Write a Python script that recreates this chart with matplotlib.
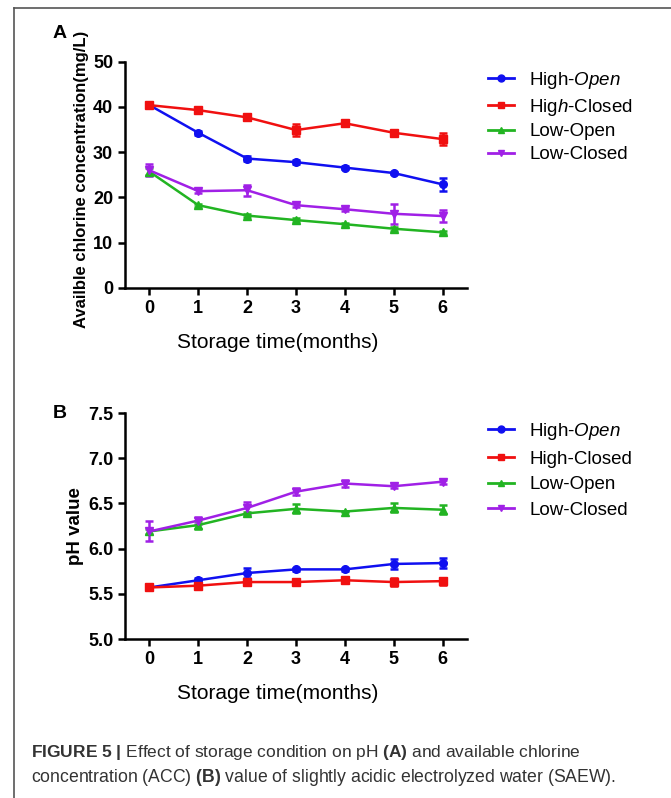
import matplotlib
matplotlib.use('Agg')
import matplotlib.pyplot as plt
from matplotlib.lines import Line2D

plt.rcParams['font.family'] = ['Liberation Sans', 'DejaVu Sans']
plt.rcParams['mathtext.fontset'] = 'custom'
plt.rcParams['mathtext.rm'] = 'Liberation Sans'
plt.rcParams['mathtext.it'] = 'Liberation Sans:italic'
plt.rcParams['mathtext.bf'] = 'Liberation Sans:bold'

# months
months = [0, 1, 2, 3, 4, 5, 6]

# panel A - available chlorine concentration (mg/L)
acc_high_open = [40.4, 34.3, 28.6, 27.8, 26.6, 25.4, 22.9]
acc_high_open_err = [0.4, 0.4, 0.5, 0.4, 0.3, 0.3, 1.4]
acc_high_closed = [40.4, 39.3, 37.7, 34.9, 36.4, 34.3, 32.9]
acc_high_closed_err = [0.4, 0.4, 0.5, 1.4, 0.4, 0.3, 1.3]
acc_low_open = [25.7, 18.3, 16.0, 15.0, 14.1, 13.1, 12.3]
acc_low_open_err = [0.8, 0.3, 0.3, 0.4, 0.3, 0.4, 0.3]
acc_low_closed = [26.0, 21.4, 21.6, 18.3, 17.4, 16.4, 15.9]
acc_low_closed_err = [1.3, 0.4, 1.2, 0.4, 0.4, 2.2, 1.4]

# panel B - pH
ph_high_open = [5.57, 5.65, 5.73, 5.77, 5.77, 5.83, 5.84]
ph_high_open_err = [0.02, 0.02, 0.05, 0.02, 0.02, 0.06, 0.06]
ph_high_closed = [5.57, 5.59, 5.63, 5.63, 5.65, 5.63, 5.64]
ph_high_closed_err = [0.02, 0.02, 0.02, 0.02, 0.02, 0.04, 0.04]
ph_low_open = [6.19, 6.26, 6.39, 6.44, 6.41, 6.45, 6.43]
ph_low_open_err = [0.03, 0.04, 0.02, 0.05, 0.01, 0.05, 0.05]
ph_low_closed = [6.19, 6.31, 6.45, 6.63, 6.72, 6.69, 6.74]
ph_low_closed_err = [0.11, 0.04, 0.07, 0.04, 0.04, 0.02, 0.02]

labels_a = ['High-$\\mathit{Open}$', 'Hig$\\mathit{h}$-Closed', 'Low-Open', 'Low-Closed']
labels_b = ['High-$\\mathit{Open}$', 'High-Closed', 'Low-Open', 'Low-Closed']
colors = ['#1010f0', '#f01010', '#22b422', '#a020e6']
markers = ['o', 's', '^', 'v']

W, H = 671, 798
fig = plt.figure(figsize=(W / 100, H / 100), dpi=100)


def fx(px):
    return px / W


def fy(py):
    return 1 - py / H


def panel(ax, series, errs, ylim, yticks, yfmt):
    for s, e, c, m in zip(series, errs, colors, markers):
        ax.errorbar(months, s, yerr=e, color=c, marker=m, markersize=5.5,
                    lw=1.8, elinewidth=1.8, capsize=3, capthick=1.8)
    ax.set_xlim(-0.5, 6.5)
    ax.set_ylim(*ylim)
    ax.set_xticks(months)
    ax.set_yticks(yticks)
    ax.set_yticklabels([yfmt.format(v) for v in yticks])
    for sp in ['top', 'right']:
        ax.spines[sp].set_visible(False)
    for sp in ['left', 'bottom']:
        ax.spines[sp].set_linewidth(1.8)
    ax.tick_params(width=1.8, length=5, labelsize=13)
    for t in ax.get_xticklabels() + ax.get_yticklabels():
        t.set_fontweight('bold')
    ax.set_xlabel('Storage time(months)', fontsize=15)
    ax.xaxis.set_label_coords(0.446, -0.20)


def legend(labels, top, spacing):
    handles = [Line2D([], [], color=c, marker=m, markersize=5, lw=2)
               for c, m in zip(colors, markers)]
    fig.legend(handles, labels, loc='upper left',
               bbox_to_anchor=(fx(488), fy(top)), frameon=False,
               fontsize=13.5, handlelength=1.4, handletextpad=0.8,
               labelspacing=spacing, borderpad=0, borderaxespad=0)


# panel A
ax1 = fig.add_axes([fx(125), fy(288), fx(467) - fx(125), (288 - 61.7) / H])
panel(ax1, [acc_high_open, acc_high_closed, acc_low_open, acc_low_closed],
      [acc_high_open_err, acc_high_closed_err, acc_low_open_err, acc_low_closed_err],
      (0, 50), [0, 10, 20, 30, 40, 50], '{:.0f}')
ax1.set_ylabel('Availble chlorine concentration(mg/L)', fontsize=12, fontweight='bold')
ax1.yaxis.set_label_coords(-0.105, 0.48)
legend(labels_a, 70, 0.3)
fig.text(fx(60), fy(33), 'A', fontsize=14, fontweight='bold', ha='center', va='center')

# panel B
ax2 = fig.add_axes([fx(125), fy(639), fx(467) - fx(125), (639 - 413) / H])
panel(ax2, [ph_high_open, ph_high_closed, ph_low_open, ph_low_closed],
      [ph_high_open_err, ph_high_closed_err, ph_low_open_err, ph_low_closed_err],
      (5.0, 7.5), [5.0, 5.5, 6.0, 6.5, 7.0, 7.5], '{:.1f}')
ax2.set_ylabel('pH value', fontsize=13.5, fontweight='bold')
ax2.yaxis.set_label_coords(-0.12, 0.50)
legend(labels_b, 421, 0.45)
fig.text(fx(60), fy(413), 'B', fontsize=14, fontweight='bold', ha='center', va='center')

# frame lines
fig.add_artist(Line2D([fx(14), fx(14)], [0, fy(8)], color='#555555', lw=1.2))
fig.add_artist(Line2D([fx(14), 1], [fy(8), fy(8)], color='#555555', lw=1.2))

# caption
cap1 = '$\\mathbf{FIGURE\\ 5\\ |}$ Effect of storage condition on pH $\\mathbf{(A)}$ and available chlorine'
cap2 = 'concentration (ACC) $\\mathbf{(B)}$ value of slightly acidic electrolyzed water (SAEW).'
fig.text(fx(31), fy(752), cap1, fontsize=12.5, color='#333333', va='center')
fig.text(fx(31), fy(777), cap2, fontsize=12.7, color='#333333', va='center')

fig.savefig('out.png', dpi=100)
